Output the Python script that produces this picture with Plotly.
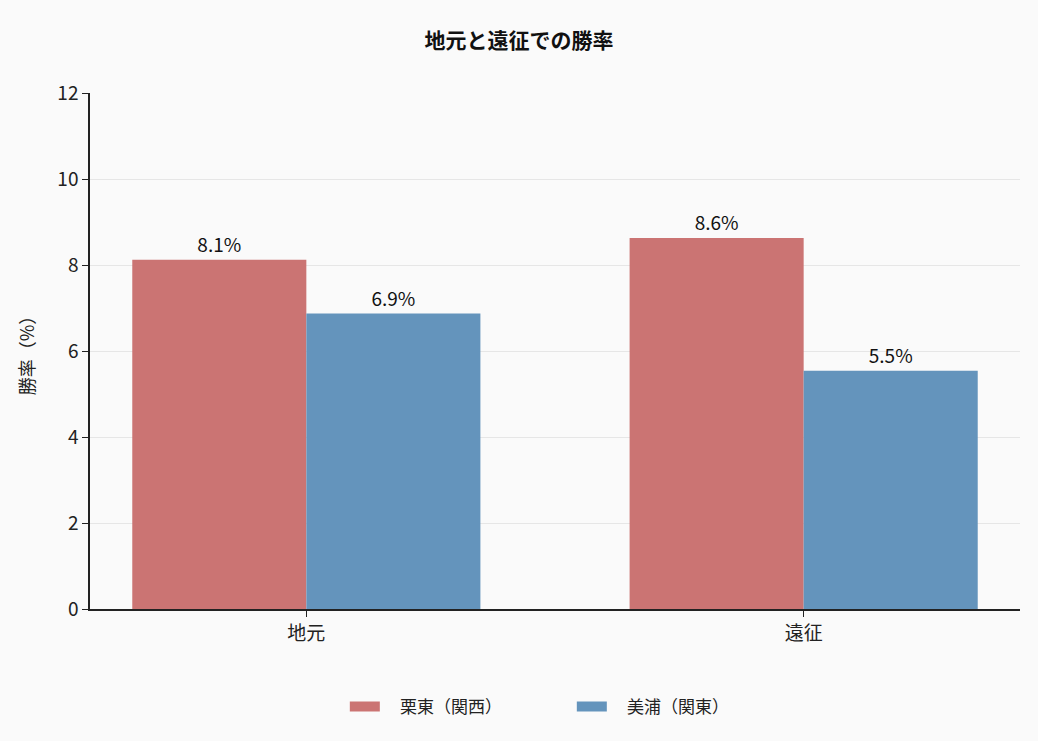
import plotly.graph_objects as go

categories = ["地元", "遠征"]
ritto = [8.12, 8.63]
miho = [6.87, 5.54]
series_names = ["栗東（関西）", "美浦（関東）"]
colors = ["#CB7473", "#6494BC"]

FONT = "Noto Sans CJK JP"

fig = go.Figure()
for vals, name, col in zip([ritto, miho], series_names, colors):
    fig.add_trace(go.Bar(x=categories, y=vals, name=name, marker_color=col,
                         marker_line_width=0, showlegend=False,
                         texttemplate="%{y:.1f}%", textposition="outside",
                         textfont=dict(size=19, color="#111111"), cliponaxis=False))
# legend entries drawn as thick line swatches (wide rectangles like the reference)
for name, col in zip(series_names, colors):
    fig.add_trace(go.Scatter(x=[None], y=[None], mode="lines",
                             name="\u00a0\u00a0\u00a0\u00a0" + name,
                             line=dict(color=col, width=14)))

fig.update_layout(
    width=1038, height=741,
    paper_bgcolor="#FAFAFA", plot_bgcolor="#FAFAFA",
    font=dict(family=FONT, size=16, color="#222222"),
    title=dict(text="<b>地元と遠征での勝率</b>", x=0.5, xanchor="center", y=0.955,
               font=dict(size=21, color="#111111")),
    barmode="group", bargap=0.3, bargroupgap=0,
    margin=dict(l=90, r=18, t=93, b=132),
    legend=dict(orientation="h", x=0.274, xanchor="left", y=-0.155, yanchor="top",
                font=dict(size=17), traceorder="normal", entrywidth=182),
    showlegend=True,
)
fig.update_xaxes(range=[-0.435, 1.435], showline=True, linecolor="#222222", linewidth=1.5,
                 ticks="outside", ticklen=6, tickcolor="#222222", showgrid=False,
                 tickfont=dict(size=19))
fig.update_yaxes(range=[0, 12], dtick=2, showline=True, linecolor="#222222", linewidth=1.5,
                 ticks="outside", ticklen=6, tickcolor="#222222",
                 gridcolor="#E6E6E6", gridwidth=1, zeroline=False,
                 tickfont=dict(size=19),
                 title=dict(text="勝率（%）", font=dict(size=18), standoff=18))

fig.write_html("out.html", config={"displayModeBar": False},
               post_script="document.body.style.margin='0';")
